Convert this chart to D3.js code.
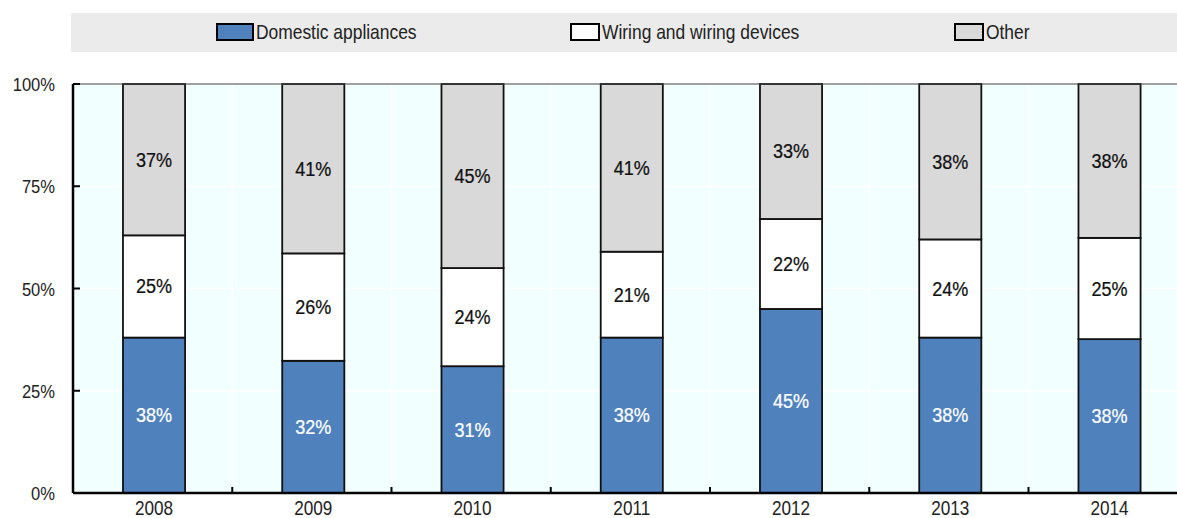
<!DOCTYPE html>
<html><head><meta charset="utf-8">
<script src="https://cdn.jsdelivr.net/npm/d3@7"></script>
<style>
html,body{margin:0;padding:0;background:#fff;}
svg{display:block;}
text{font-family:"Liberation Sans Narrow","Arial Narrow","Liberation Sans",Arial,sans-serif;}
</style></head>
<body>
<svg id="chart" width="1177" height="518"></svg>
<script>
const years = ["2008","2009","2010","2011","2012","2013","2014"];
const seriesNames = ["Domestic appliances","Wiring and wiring devices","Other"];
const domestic = [38,32,31,38,45,38,38];
const wiring   = [25,26,24,21,22,24,25];
const other    = [37,41,45,41,33,38,38];
const yTicks = [0,0.25,0.5,0.75,1];

(function(){
const colors = ["#4F81BD","#FFFFFF","#D9D9D9"];
const labelColors = ["#FFFFFF","#111111","#111111"];
const SX = 0.88;

const svg = d3.select("#chart");
const W = 1177;
const pLeft = 73, pTop = 84, pBottom = 493;
const band = 159.25;
const pRight = pLeft + band*years.length;

function place(sel, fx, fy){
  sel.attr("transform",(d,i)=>`translate(${fx(d,i)},${fy(d,i)}) scale(${SX},1)`);
}

// legend band
svg.append("rect").attr("x",71).attr("y",13).attr("width",W-71).attr("height",39).attr("fill","#EBEBEB");
const legendX = [217, 571, 955];
const swW = [36, 28, 28];
seriesNames.forEach((n,i)=>{
  const g = svg.append("g").attr("transform",`translate(${legendX[i]},24)`);
  g.append("rect").attr("x",0).attr("y",0).attr("width",swW[i]).attr("height",16)
    .attr("fill",colors[i]).attr("stroke","#000").attr("stroke-width",2);
  g.append("text").attr("transform",`translate(${swW[i]+3},15) scale(${SX},1)`)
    .attr("font-size",19.8).attr("fill","#222").text(n);
});

const rows = years.map((yr,i)=>{
  const s = domestic[i]+wiring[i]+other[i];
  return {year:yr, vals:[domestic[i],wiring[i],other[i]],
          d0:domestic[i]/s, d1:wiring[i]/s, d2:other[i]/s};
});
const stack = d3.stack().keys(["d0","d1","d2"])(rows);

const x = d3.scaleBand().domain(years).range([pLeft,pRight]).padding(0);
const y = d3.scaleLinear().domain([0,1]).range([pBottom,pTop]);

svg.append("rect").attr("x",pLeft).attr("y",pTop).attr("width",pRight-pLeft).attr("height",pBottom-pTop).attr("fill","#F2FFFF");
svg.append("g").selectAll("line").data(yTicks.slice(1,-1)).join("line")
  .attr("x1",pLeft).attr("x2",pRight).attr("y1",d=>y(d)).attr("y2",d=>y(d))
  .attr("stroke","#fff").attr("stroke-width",1.5);
svg.append("g").selectAll("line").data(years.slice(1)).join("line")
  .attr("x1",d=>x(d)).attr("x2",d=>x(d)).attr("y1",pTop).attr("y2",pBottom)
  .attr("stroke","#fff").attr("stroke-width",1.5);

const barW = band*0.39;
const off = 1.4;
stack.forEach((layer,li)=>{
  const g = svg.append("g");
  g.selectAll("rect").data(layer).join("rect")
    .attr("x",d=>x(d.data.year)+band/2-barW/2+off)
    .attr("width",barW)
    .attr("y",d=>y(d[1]))
    .attr("height",d=>y(d[0])-y(d[1]))
    .attr("fill",colors[li]).attr("stroke","#111").attr("stroke-width",1.8);
  const t = g.selectAll("text").data(layer).join("text")
    .attr("text-anchor","middle").attr("font-size",20.5)
    .attr("fill",labelColors[li])
    .attr("stroke",labelColors[li]).attr("stroke-width",0.25)
    .text(d=>d.data.vals[li]+"%");
  place(t, d=>x(d.data.year)+band/2+off, d=>(y(d[0])+y(d[1]))/2+7);
});

svg.append("line").attr("x1",pLeft).attr("x2",pRight).attr("y1",pTop).attr("y2",pTop).attr("stroke","#444").attr("stroke-width",1.2);

// y axis
const ya = svg.append("g");
ya.append("line").attr("x1",pLeft).attr("x2",pLeft).attr("y1",pTop).attr("y2",pBottom).attr("stroke","#000").attr("stroke-width",2.5);
ya.selectAll("line.tk").data(yTicks).join("line").attr("class","tk")
  .attr("x1",pLeft).attr("x2",pLeft+7).attr("y1",d=>y(d)).attr("y2",d=>y(d)).attr("stroke","#000").attr("stroke-width",2);
const fmt = d3.format(".0%");
const yt = ya.selectAll("text").data(yTicks).join("text")
  .attr("text-anchor","end").attr("font-size",18.8).attr("fill","#222").text(d=>fmt(d));
place(yt, d=>55, d=>y(d)+7);

// x axis
const xa = svg.append("g");
xa.append("line").attr("x1",pLeft).attr("x2",pRight).attr("y1",pBottom).attr("y2",pBottom).attr("stroke","#000").attr("stroke-width",2.5);
xa.selectAll("line.tk").data(years.slice(1)).join("line").attr("class","tk")
  .attr("x1",d=>x(d)).attr("x2",d=>x(d)).attr("y1",pBottom).attr("y2",pBottom-6).attr("stroke","#000").attr("stroke-width",2);
const xt = xa.selectAll("text").data(years).join("text")
  .attr("text-anchor","middle").attr("font-size",19.5).attr("fill","#222").text(d=>d);
place(xt, d=>x(d)+band/2+off, d=>515);
})();
</script>
</body></html>
